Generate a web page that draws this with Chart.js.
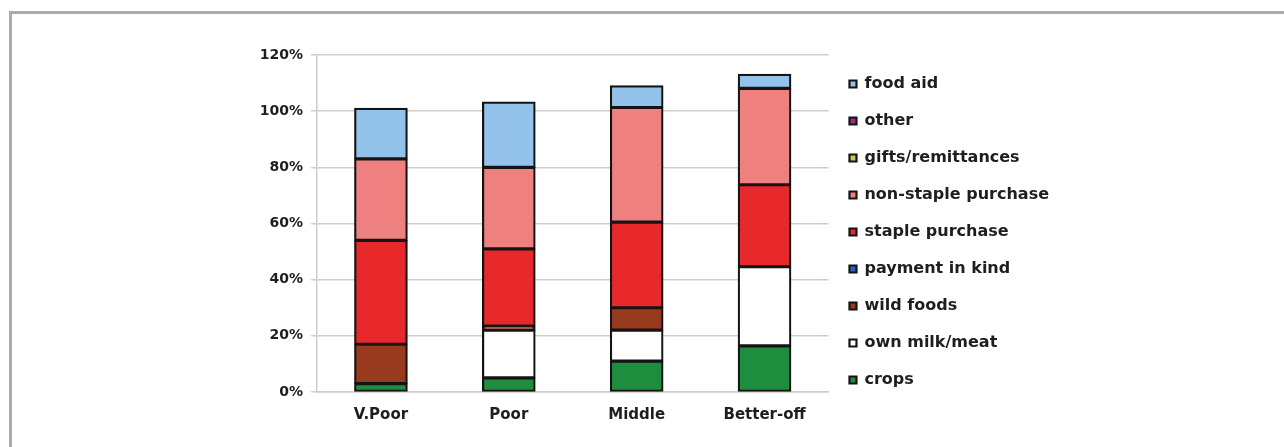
<!DOCTYPE html>
<html>
<head>
    <meta charset="utf-8">
    <title>food sources</title>
    <script src="https://cdn.jsdelivr.net/npm/chart.js@4.4.1/dist/chart.umd.min.js"></script>
    <style>
        body { margin: 0; background: #fff; }
        #frame {
            position: absolute; left: 9px; top: 11px; width: 1290px; height: 450px;
            border-top: 3px solid #ababab; border-left: 3px solid #ababab;
        }
        #wrap { position: absolute; left: 0; top: 0; width: 1284px; height: 447px; }
    </style>
</head>
<body>
<div id="frame"></div>
<div id="wrap"><canvas id="myChart" width="1284" height="447"></canvas></div>

<script>
    // wealth groups
    let categories = ['V.Poor', 'Poor', 'Middle', 'Better-off'];
    let yTicks = [0, 20, 40, 60, 80, 100, 120];

    // % of food needs by source
    let crops = [3, 5, 11, 16.4];
    let ownMilkMeat = [0, 17, 11, 28.2];
    let wildFoods = [14, 1.5, 8, 0];
    let paymentInKind = [0, 0, 0, 0];
    let staplePurchase = [37, 27.5, 30.5, 29.2];
    let nonStaplePurchase = [29, 29, 40.8, 34.3];
    let giftsRemittances = [0, 0, 0, 0];
    let other = [0, 0, 0, 0];
    let foodAid = [18, 23.2, 7.7, 5];

    let seriesNames = ['crops', 'own milk/meat', 'wild foods', 'payment in kind', 'staple purchase',
        'non-staple purchase', 'gifts/remittances', 'other', 'food aid'];
    let seriesData = [crops, ownMilkMeat, wildFoods, paymentInKind, staplePurchase,
        nonStaplePurchase, giftsRemittances, other, foodAid];
    let seriesColors = ['#1f8d3e', '#ffffff', '#983a1e', '#2b62c0', '#e8292b',
        '#ef8080', '#cbc65a', '#9c2f7b', '#93c3ea'];

    let datasets = [];
    for (let i = 0; i < seriesNames.length; i++) {
        datasets.push({
            label: seriesNames[i],
            data: seriesData[i],
            backgroundColor: seriesColors[i],
            borderColor: '#141414',
            borderWidth: 2.2,
            borderSkipped: false,
            inflateAmount: 0.6,
            categoryPercentage: 1,
            barPercentage: 0.41
        });
    }

    let gridColor = '#d3cbc5';

    new Chart(document.getElementById('myChart'), {
        type: 'bar',
        data: {labels: categories, datasets: datasets},
        options: {
            responsive: false,
            animation: false,
            layout: {padding: {left: 0, top: 55, right: 225, bottom: 17}},
            plugins: {
                tooltip: {enabled: false},
                legend: {
                    position: 'right',
                    align: 'start',
                    reverse: true,
                    labels: {
                        boxWidth: 7,
                        boxHeight: 7,
                        padding: 21,
                        color: '#1e1e1e',
                        font: {family: 'DejaVu Sans', weight: 'bold', size: 16}
                    }
                }
            },
            scales: {
                x: {
                    stacked: true,
                    grid: {display: false},
                    border: {color: gridColor, width: 1.5},
                    ticks: {
                        color: '#1e1e1e',
                        font: {family: 'DejaVu Sans', weight: 'bold', size: 15},
                        padding: 6
                    }
                },
                y: {
                    stacked: true,
                    min: 0,
                    max: 120,
                    afterFit: function (scale) { scale.width = 317; },
                    afterBuildTicks: function (scale) {
                        scale.ticks = yTicks.map(function (v) { return {value: v}; });
                    },
                    grid: {color: gridColor, lineWidth: 1.5, tickLength: 6},
                    border: {color: gridColor, width: 1.5},
                    ticks: {
                        color: '#1e1e1e',
                        font: {family: 'DejaVu Sans', weight: 'bold', size: 14},
                        padding: 8,
                        callback: function (v) { return v + '%'; }
                    }
                }
            }
        }
    });
</script>
</body>
</html>
